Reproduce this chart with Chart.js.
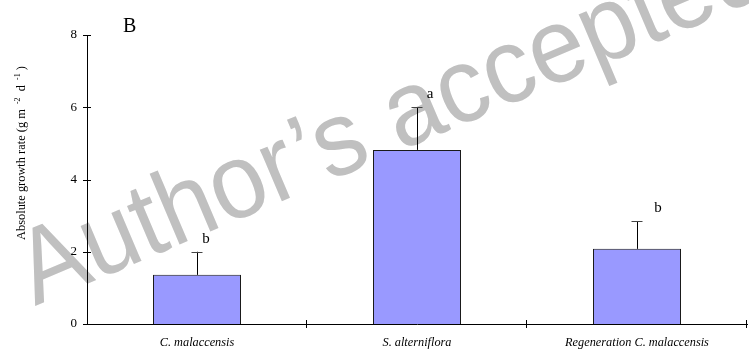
<!DOCTYPE html>
<html>
<head>
<meta charset="utf-8">
<script src="https://cdn.jsdelivr.net/npm/chart.js@4.4.1/dist/chart.umd.min.js"></script>
<style>
  html, body { margin: 0; padding: 0; background: #fff; }
  #wrap { width: 749px; height: 351px; position: relative; }
</style>
</head>
<body>
<div id="wrap"><canvas id="growth"></canvas></div>
<script>
// absolute growth rate per stand, with SE and Tukey letters
const categories = ['C. malaccensis', 'S. alterniflora', 'Regeneration C. malaccensis'];
const growthRate = [1.36, 4.82, 2.08];
const growthSE = [0.64, 1.18, 0.76];
const groupLetters = ['b', 'a', 'b'];
const yTicks = [0, 2, 4, 6, 8];
const panelLabel = 'B';
const watermarkText = 'Author\u2019s accepted';

const SERIF = '"Liberation Serif", "Times New Roman", serif';
const letterDx = [9, 13, 21];

const decorations = {
  id: 'decorations',
  beforeDraw(chart) {
    const ctx = chart.ctx;
    ctx.save();
    ctx.fillStyle = '#fff';
    ctx.fillRect(0, 0, chart.width, chart.height);
    // diagonal watermark behind the plot
    ctx.translate(35, 306);
    ctx.rotate(-23 * Math.PI / 180);
    ctx.scale(1, 1.06);
    ctx.font = '100px "Liberation Sans", Arial, sans-serif';
    ctx.fillStyle = '#c0c0c0';
    ctx.textBaseline = 'alphabetic';
    ctx.fillText(watermarkText, 0, 0);
    ctx.restore();
  },
  afterDatasetsDraw(chart) {
    const ctx = chart.ctx;
    const y = chart.scales.y;
    const meta = chart.getDatasetMeta(0);
    ctx.save();
    meta.data.forEach((bar, i) => {
      const top = y.getPixelForValue(growthRate[i] + growthSE[i]);
      ctx.strokeStyle = '#000';
      ctx.lineWidth = 1;
      ctx.beginPath();
      ctx.moveTo(Math.round(bar.x) + 0.5, bar.y);
      ctx.lineTo(Math.round(bar.x) + 0.5, top);
      ctx.stroke();
      ctx.strokeStyle = '#444';
      ctx.beginPath();
      ctx.moveTo(bar.x - 5.5, Math.round(top) + 0.5);
      ctx.lineTo(bar.x + 5.5, Math.round(top) + 0.5);
      ctx.stroke();
      ctx.fillStyle = '#000';
      ctx.font = '15px ' + SERIF;
      ctx.textAlign = 'center';
      ctx.textBaseline = 'alphabetic';
      ctx.fillText(groupLetters[i], bar.x + letterDx[i], top - 9);
    });
    ctx.restore();
  },
  afterDraw(chart) {
    const ctx = chart.ctx;
    const { x, y } = chart.scales;
    const area = chart.chartArea;
    ctx.save();
    ctx.strokeStyle = '#000';
    ctx.lineWidth = 1;
    // ticks crossing the axes
    yTicks.forEach(v => {
      const py = Math.round(y.getPixelForValue(v)) + 0.5;
      ctx.beginPath();
      ctx.moveTo(area.left - 4, py);
      ctx.lineTo(area.left + 4, py);
      ctx.stroke();
    });
    const n = categories.length;
    for (let i = 1; i <= n; i++) {
      const px = Math.round(x.left + (x.right - x.left) * i / n) - 0.5;
      ctx.beginPath();
      ctx.moveTo(px, area.bottom - 4);
      ctx.lineTo(px, area.bottom + 4);
      ctx.stroke();
    }
    // panel letter
    ctx.fillStyle = '#000';
    ctx.font = '20px ' + SERIF;
    ctx.textAlign = 'left';
    ctx.textBaseline = 'alphabetic';
    ctx.fillText(panelLabel, 123, 32);
    // y title with superscripts
    ctx.translate(25, 153);
    ctx.rotate(-Math.PI / 2);
    const parts = [
      ['Absolute growth rate (g m ', 0],
      [' -2', 1],
      ['  d ', 0],
      [' -1', 1],
      [' )', 0]
    ];
    const big = '12.4px ' + SERIF, small = '8px ' + SERIF;
    let w = 0;
    parts.forEach(([t, sup]) => { ctx.font = sup ? small : big; w += ctx.measureText(t).width; });
    let cx = -w / 2;
    parts.forEach(([t, sup]) => {
      ctx.font = sup ? small : big;
      ctx.fillText(t, cx, sup ? -5 : 0);
      cx += ctx.measureText(t).width;
    });
    ctx.restore();
  }
};

new Chart(document.getElementById('growth'), {
  type: 'bar',
  data: {
    labels: categories,
    datasets: [{
      data: growthRate,
      backgroundColor: '#9999ff',
      borderColor: '#1a1a1a',
      borderWidth: 1,
      barPercentage: 0.4,
      categoryPercentage: 1.0
    }]
  },
  options: {
    responsive: true,
    maintainAspectRatio: false,
    animation: false,
    layout: { padding: { left: 0, right: 2, top: 35, bottom: 0 } },
    plugins: { legend: { display: false }, tooltip: { enabled: false } },
    scales: {
      x: {
        grid: { display: false, drawTicks: false },
        border: { display: true, color: '#000', width: 1 },
        ticks: { color: '#000', padding: 11, font: { family: SERIF, size: 12.3, style: 'italic' } },
        afterFit(scale) { scale.height = 27; }
      },
      y: {
        min: 0, max: 8,
        grid: { display: false, drawTicks: false },
        border: { display: true, color: '#000', width: 1 },
        ticks: { stepSize: 2, color: '#000', padding: 10, font: { family: SERIF, size: 13 } },
        afterFit(scale) { scale.width = 87; }
      }
    }
  },
  plugins: [decorations]
});
</script>
</body>
</html>
